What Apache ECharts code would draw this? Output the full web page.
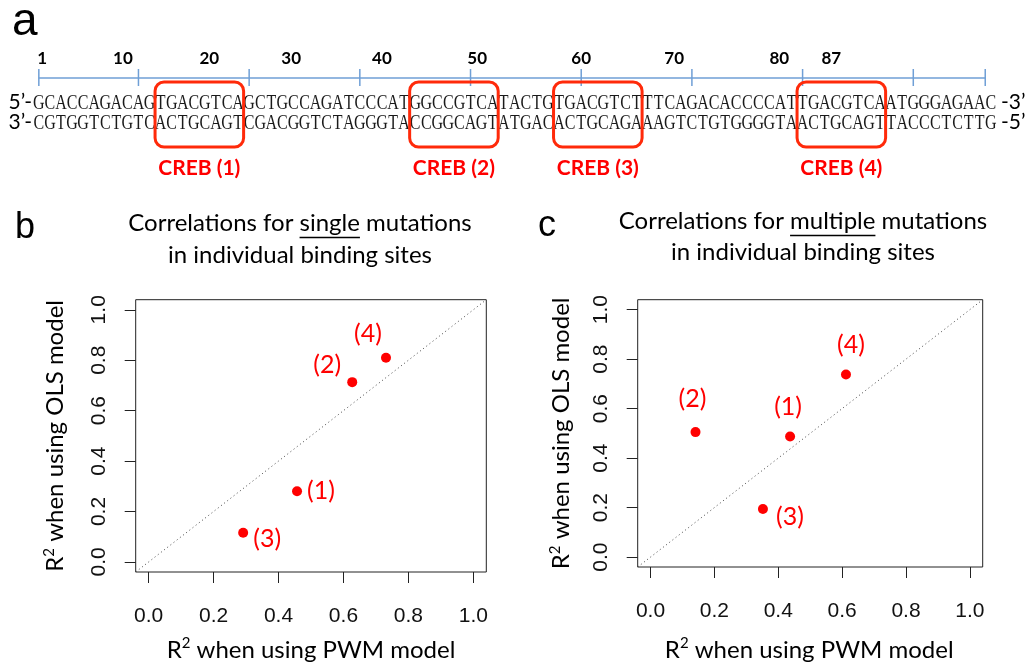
<!DOCTYPE html>
<html>
<head>
<meta charset="utf-8">
<script src="https://cdn.jsdelivr.net/npm/echarts@6/dist/echarts.min.js"></script>
<style>
  html, body { margin: 0; padding: 0; background: #ffffff; }
  #chart { width: 1030px; height: 665px; }
</style>
</head>
<body>
<div id="chart"></div>
<script>
// ---- Sequence data (87 bp promoter fragment, both strands) ----
const topSegments = ['GCACCAGACAG', 'TGACGTCA', 'GCTGCCAGATCCCAT', 'GGCCGTCA', 'TACTG',
                     'TGACGTCT', 'TTCAGACACCCCAT', 'TGACGTCA', 'ATGGGAGAAC'];
const bottomSegments = ['CGTGGTCTGTC', 'ACTGCAGT', 'CGACGGTCTAGGGTA', 'CCGGCAGT', 'ATGAC',
                        'ACTGCAGA', 'AAGTCTGTGGGGTA', 'ACTGCAGT', 'TACCCTCTTG'];
const topStrand = topSegments.join('');
const bottomStrand = bottomSegments.join('');

// CREB binding sites: first base of each 8-bp site
const siteStarts = [12, 35, 48, 70];
const siteLength = 8;
const siteNames = ['CREB (1)', 'CREB (2)', 'CREB (3)', 'CREB (4)'];

// Position ruler
const rulerTicks = [1, 10, 20, 30, 40, 50, 60, 70, 80, 86.5];
const rulerLabels = ['1', '10', '20', '30', '40', '50', '60', '70', '80', '87'];
const rulerLabelAt = [1.3, 8.6, 16.4, 23.8, 32.0, 40.6, 50.0, 58.4, 67.9, 72.6];

// ---- Correlation data (R^2 values per binding site) ----
const siteTags = ['(1)', '(2)', '(3)', '(4)'];
const singlePWM = [0.457, 0.627, 0.291, 0.731];
const singleOLS = [0.280, 0.713, 0.116, 0.810];
const multiPWM = [0.437, 0.141, 0.352, 0.612];
const multiOLS = [0.487, 0.505, 0.194, 0.738];
const axisTicks = [0, 0.2, 0.4, 0.6, 0.8, 1.0];
const identityLine = [[-0.04, -0.04], [1.04, 1.04]];

// ---- Layout / styling ----
const SANS = 'Lato';
const RED = '#ff0000';
const BOX_RED = '#ff2a0a';
const RULER_BLUE = '#6f9fd6';
const INK = '#000000';
const Y = { rulerLabel: 59, ruler: 78, tickTop: 69, tickBot: 86, top: 104, bottom: 124,
            boxTop: 82, boxBot: 147, creb: 168 };
// label placement around each point, [dx, dy] in px
const singleLabelOffset = [[24, 0], [-25, -17], [24, 6], [-18, -24]];
const multiLabelOffset = [[-2, -30], [-3, -33], [27, 8], [5, -30]];

function strandSeries(seq, rowY) {
  return {
    type: 'custom', xAxisIndex: 0, yAxisIndex: 0, silent: true,
    data: seq.split('').map((b, i) => [i + 1, rowY]),
    renderItem: (params, api) => {
      const p = api.coord([api.value(0), api.value(1)]);
      return {
        type: 'text', x: p[0], y: p[1], scaleX: 0.8,
        style: { text: seq[params.dataIndex], fill: '#1a1a1a',
                 font: '20px "Liberation Serif"', align: 'center', verticalAlign: 'middle' }
      };
    }
  };
}

function scatterSeries(gridIdx, xs, ys, offsets) {
  return {
    type: 'scatter', xAxisIndex: gridIdx, yAxisIndex: gridIdx, silent: true,
    symbol: 'circle', symbolSize: 10,
    itemStyle: { color: RED, opacity: 1 },
    data: xs.map((x, i) => ({
      value: [x, ys[i]],
      label: {
        show: true, formatter: siteTags[i], position: 'inside', offset: offsets[i],
        color: RED, fontFamily: SANS, fontSize: 25
      }
    }))
  };
}

function diagSeries(gridIdx) {
  return {
    type: 'line', xAxisIndex: gridIdx, yAxisIndex: gridIdx, silent: true,
    data: identityLine, symbol: 'none', z: 1,
    lineStyle: { color: '#444', width: 1, type: [1, 3] }
  };
}

// axis title with a raised "2" in R²
const nameRich = { s: { fontFamily: SANS, fontSize: 15, color: INK, lineHeight: 18, verticalAlign: 'top' } };

function valueAxisX(gridIdx, nameGap, namePad) {
  return {
    type: 'value', gridIndex: gridIdx, min: -0.04, max: 1.04,
    axisLine: { show: false, onZero: false },
    axisTick: { show: true, length: 11, customValues: axisTicks, lineStyle: { color: '#222', width: 1 } },
    axisLabel: { customValues: axisTicks, formatter: v => v.toFixed(1), margin: 34,
                 fontFamily: 'Liberation Sans', fontSize: 21, color: '#111' },
    splitLine: { show: false },
    name: 'R{s|2} when using PWM model', nameLocation: 'middle', nameGap: nameGap,
    nameTextStyle: { fontFamily: SANS, fontSize: 24, color: INK, lineHeight: 28, padding: namePad, rich: nameRich }
  };
}

function valueAxisY(gridIdx, nameGap) {
  return {
    type: 'value', gridIndex: gridIdx, min: -0.04, max: 1.04,
    axisLine: { show: false, onZero: false },
    axisTick: { show: true, length: 11, customValues: axisTicks, lineStyle: { color: '#222', width: 1 } },
    axisLabel: { customValues: axisTicks, formatter: v => v.toFixed(1), margin: 26, rotate: 90,
                 fontFamily: 'Liberation Sans', fontSize: 21, color: '#111' },
    splitLine: { show: false },
    name: 'R{s|2} when using OLS model', nameLocation: 'middle', nameGap: nameGap, nameRotate: 90,
    nameTextStyle: { fontFamily: SANS, fontSize: 24, color: INK, lineHeight: 28, rich: nameRich }
  };
}

// Titles with one underlined word
const titleFont = '24px ' + SANS;
const measureCtx = document.createElement('canvas').getContext('2d');
function textWidth(t, font) { measureCtx.font = font; return measureCtx.measureText(t).width; }

function titleGraphics(cx, y1, y2, pre, word, post, line2) {
  const full = pre + word + post;
  const w = textWidth(full, titleFont);
  const x0 = cx - w / 2 + textWidth(pre, titleFont);
  const wl = textWidth(word, titleFont);
  return [
    { type: 'text', x: cx, y: y1, style: { text: full, font: titleFont, fill: INK, align: 'center', verticalAlign: 'middle' } },
    { type: 'line', shape: { x1: x0, y1: y1 + 14.5, x2: x0 + wl, y2: y1 + 14.5 }, style: { stroke: INK, lineWidth: 1.5 } },
    { type: 'text', x: cx, y: y2, style: { text: line2, font: titleFont, fill: INK, align: 'center', verticalAlign: 'middle' } }
  ];
}

const graphics = [
  { type: 'text', x: 12, y: 22, style: { text: 'a', font: '46px "Liberation Sans"', fill: INK, verticalAlign: 'middle' } },
  { type: 'text', x: 15, y: 228, style: { text: 'b', font: '36px "Liberation Sans"', fill: INK, verticalAlign: 'middle' } },
  { type: 'text', x: 538, y: 226, style: { text: 'c', font: '36px "Liberation Sans"', fill: INK, verticalAlign: 'middle' } },
  { type: 'text', x: 32, y: Y.top - 2, style: { text: '5’-', font: '21px ' + SANS, fill: INK, align: 'right', verticalAlign: 'middle' } },
  { type: 'text', x: 32, y: Y.bottom - 2, style: { text: '3’-', font: '21px ' + SANS, fill: INK, align: 'right', verticalAlign: 'middle' } },
  { type: 'text', x: 1001, y: Y.top - 2, style: { text: '-3’', font: '21px ' + SANS, fill: INK, verticalAlign: 'middle' } },
  { type: 'text', x: 1001, y: Y.bottom - 2, style: { text: '-5’', font: '21px ' + SANS, fill: INK, verticalAlign: 'middle' } }
].concat(
  titleGraphics(300, 223, 255, 'Correlations for ', 'single', ' mutations', 'in individual binding sites'),
  titleGraphics(803, 221, 252, 'Correlations for ', 'multiple', ' mutations', 'in individual binding sites')
);

const option = {
  backgroundColor: '#ffffff',
  animation: false,
  graphic: graphics,
  grid: [
    { left: 33.3, right: 33.7, top: 0, height: 200, show: false },
    { left: 135.7, top: 299.7, width: 350.6, height: 277.6, show: true, borderColor: '#222', borderWidth: 1 },
    { left: 637.7, top: 299.7, width: 345, height: 272.6, show: true, borderColor: '#222', borderWidth: 1 }
  ],
  xAxis: [
    { type: 'value', gridIndex: 0, min: 0.5, max: 87.5, show: false },
    valueAxisX(1, 64, [0, 0, 0, 0]),
    valueAxisX(2, 69, [0, 2, 0, 0])
  ],
  yAxis: [
    { type: 'value', gridIndex: 0, min: 0, max: 200, inverse: true, show: false },
    valueAxisY(1, 66),
    valueAxisY(2, 62)
  ],
  series: [
    // ruler
    {
      type: 'line', xAxisIndex: 0, yAxisIndex: 0, silent: true, symbol: 'none',
      data: [[rulerTicks[0], Y.ruler], [rulerTicks[rulerTicks.length - 1], Y.ruler]],
      lineStyle: { color: RULER_BLUE, width: 1.5 }
    },
    {
      type: 'custom', xAxisIndex: 0, yAxisIndex: 0, silent: true,
      data: rulerTicks.map(t => [t]),
      renderItem: (params, api) => {
        const a = api.coord([api.value(0), Y.tickTop]);
        const b = api.coord([api.value(0), Y.tickBot]);
        return { type: 'line', shape: { x1: a[0], y1: a[1], x2: b[0], y2: b[1] },
                 style: { stroke: RULER_BLUE, lineWidth: 1.5 } };
      }
    },
    {
      type: 'custom', xAxisIndex: 0, yAxisIndex: 0, silent: true,
      data: rulerLabelAt.map(t => [t]),
      renderItem: (params, api) => {
        const p = api.coord([api.value(0), Y.rulerLabel]);
        return { type: 'text', x: p[0], y: p[1],
                 style: { text: rulerLabels[params.dataIndex], font: 'bold 17px ' + SANS, fill: INK,
                          align: 'center', verticalAlign: 'middle' } };
      }
    },
    strandSeries(topStrand, Y.top),
    strandSeries(bottomStrand, Y.bottom),
    // CREB site boxes and names
    {
      type: 'custom', xAxisIndex: 0, yAxisIndex: 0, silent: true, z: 5,
      data: siteStarts.map(s => [s, s + siteLength - 1]),
      renderItem: (params, api) => {
        const a = api.coord([api.value(0) - 0.5, Y.boxTop]);
        const b = api.coord([api.value(1) + 0.5, Y.boxBot]);
        const c = api.coord([(api.value(0) + api.value(1)) / 2, Y.creb]);
        return {
          type: 'group',
          children: [
            { type: 'rect', shape: { x: a[0], y: a[1], width: b[0] - a[0], height: b[1] - a[1], r: 9 },
              style: { fill: 'none', stroke: BOX_RED, lineWidth: 3 } },
            { type: 'text', x: c[0], y: c[1],
              style: { text: siteNames[params.dataIndex], font: 'bold 21px ' + SANS, fill: RED,
                       align: 'center', verticalAlign: 'middle' } }
          ]
        };
      }
    },
    diagSeries(1),
    diagSeries(2),
    scatterSeries(1, singlePWM, singleOLS, singleLabelOffset),
    scatterSeries(2, multiPWM, multiOLS, multiLabelOffset)
  ]
};

const chart = echarts.init(document.getElementById('chart'));
chart.setOption(option);
</script>
</body>
</html>
